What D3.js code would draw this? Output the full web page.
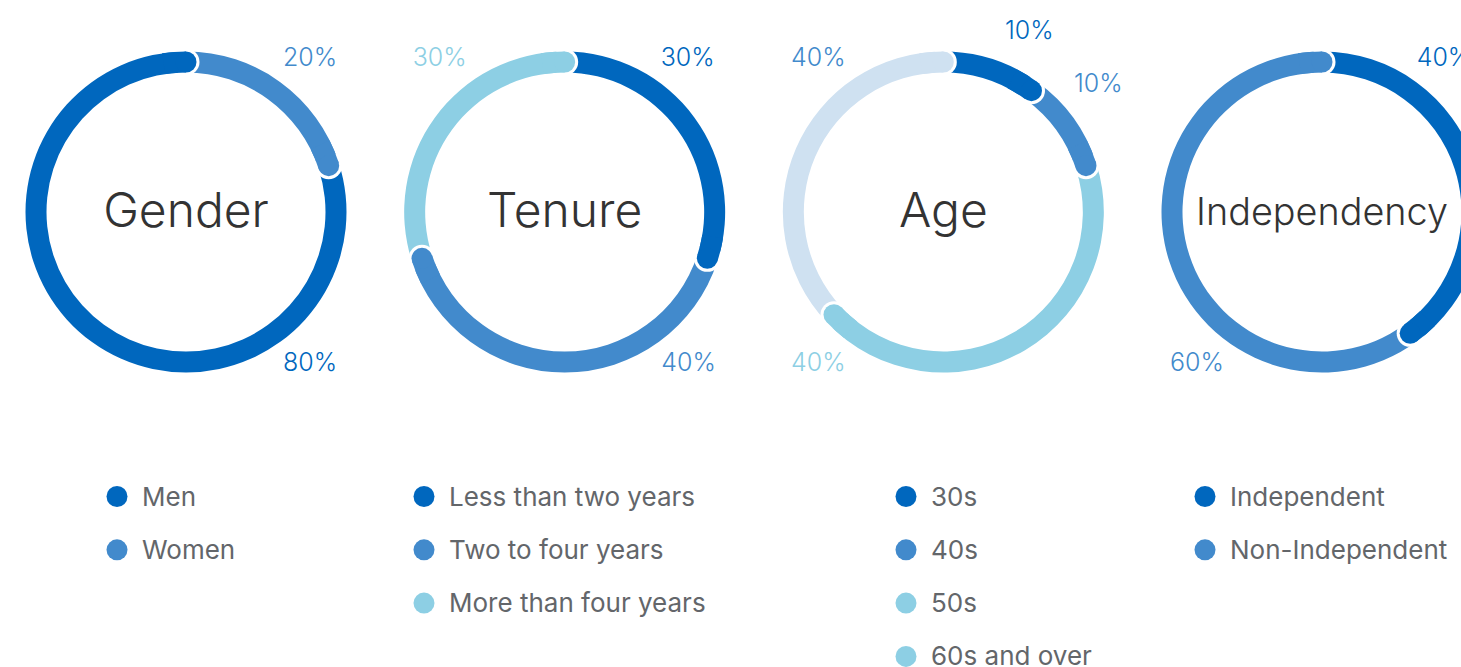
<!DOCTYPE html>
<html>
<head>
    <title>Board composition</title>
    <style>
        body { margin: 0; background: #fff; }
        .title { font-family: Inter, sans-serif; font-weight: 300; font-size: 48px; fill: #333; text-anchor: middle; }
        .pct { font-family: Inter, sans-serif; font-weight: 300; font-size: 25px; text-anchor: middle; }
        .legend text { font-family: Inter, sans-serif; font-weight: 400; font-size: 26px; fill: #63666a; }
    </style>
</head>
<body>
    <svg width="1461" height="667"></svg>

    <script src="https://d3js.org/d3.v7.min.js"></script>
    <script>
        // Datos
        var charts = ["Gender", "Tenure", "Age", "Independency"];

        var genderLabels = ["Men", "Women"];
        var genderValues = [80, 20];

        var tenureLabels = ["Less than two years", "Two to four years", "More than four years"];
        var tenureValues = [30, 40, 30];

        var ageLabels = ["30s", "40s", "50s", "60s and over"];
        var ageValues = [10, 10, 43, 37];

        var indepLabels = ["Independent", "Non-Independent"];
        var indepValues = [40, 60];

        // order the segments are drawn clockwise from 12 o'clock
        var genderOrder = [1, 0];
        var tenureOrder = [0, 1, 2];
        var ageOrder = [0, 1, 2, 3];
        var indepOrder = [0, 1];

        // colores
        var dark = "#0067be", mid = "#428acc", light = "#8dcfe4", pale = "#cfe1f1";
        var ringColors = {
            "Gender": [dark, mid],
            "Tenure": [dark, mid, light],
            "Age": [dark, mid, light, pale],
            "Independency": [dark, mid]
        };
        var dotColors = {
            "Gender": [dark, mid],
            "Tenure": [dark, mid, light],
            "Age": [dark, mid, light, light],
            "Independency": [dark, mid]
        };
        var pctColors = {
            "Gender": [dark, mid],
            "Tenure": [dark, mid, light],
            "Age": [dark, mid, light, mid],
            "Independency": [dark, mid]
        };

        // label offsets from the ring centre (layout only)
        var pctOffsets = {
            "Gender": [[124, 150], [124, -155]],
            "Tenure": [[123, -155], [124, 150], [-125, -155]],
            "Age": [[86, -182], [155, -129], [-125, 150], [-125, -155]],
            "Independency": [[122, -155], [-125, 150]]
        };
        var legendX = [117, 424, 906, 1205];

        var data = {
            "Gender": { labels: genderLabels, values: genderValues, order: genderOrder },
            "Tenure": { labels: tenureLabels, values: tenureValues, order: tenureOrder },
            "Age": { labels: ageLabels, values: ageValues, order: ageOrder },
            "Independency": { labels: indepLabels, values: indepValues, order: indepOrder }
        };

        var svg = d3.select("svg");
        var cy = 212, rMid = 150, band = 21, maxTitle = 252;

        var x = d3.scalePoint().domain(charts).range([186, 1322]);
        var legendY = d3.scaleLinear().domain([0, 1]).range([496.5, 549.8]);

        var ringArc = d3.arc().innerRadius(rMid - band / 2).outerRadius(rMid + band / 2);
        var pie = d3.pie().sort(null).value(function(d) { return d.value; });

        charts.forEach(function(name, ci) {
            var c = data[name];
            var items = c.order.map(function(i) {
                return { index: i, value: c.values[i] };
            });
            var slices = pie(items);
            var g = svg.append("g").attr("transform", "translate(" + x(name) + "," + cy + ")");

            // arcs
            g.selectAll("path.seg")
                .data(slices)
                .enter().append("path")
                .attr("class", "seg")
                .attr("d", ringArc)
                .attr("fill", function(d) { return ringColors[name][d.data.index]; });

            // rounded ends with white halo over the next segment
            slices.forEach(function(d) {
                var col = ringColors[name][d.data.index];
                var a = d.endAngle;
                var px = Math.sin(a) * rMid, py = -Math.cos(a) * rMid;
                g.append("circle").attr("cx", px).attr("cy", py)
                    .attr("r", band / 2 + 3).attr("fill", "#fff");
                g.append("path")
                    .attr("d", ringArc({ startAngle: Math.max(d.startAngle, a - 0.15), endAngle: a }))
                    .attr("fill", col);
                g.append("circle").attr("cx", px).attr("cy", py)
                    .attr("r", band / 2).attr("fill", col);
            });

            // title, shrunk when it is too wide for the ring
            var t = g.append("text")
                .attr("class", "title")
                .attr("y", 15)
                .text(name);
            var w = t.node().getComputedTextLength();
            if (w > maxTitle) {
                t.style("font-size", (48 * maxTitle / w) + "px").attr("y", 13);
            }

            // percentages
            c.values.forEach(function(v, i) {
                var off = pctOffsets[name][i];
                g.append("text")
                    .attr("class", "pct")
                    .attr("x", off[0])
                    .attr("y", off[1] + 9)
                    .attr("fill", pctColors[name][i])
                    .text(Math.round(v / 10) * 10 + "%");
            });

            // legend
            var lg = svg.append("g").attr("class", "legend")
                .attr("transform", "translate(" + legendX[ci] + ",0)");
            var row = lg.selectAll("g")
                .data(c.labels)
                .enter().append("g")
                .attr("transform", function(d, i) { return "translate(0," + legendY(i) + ")"; });
            row.append("circle")
                .attr("r", 10.5)
                .attr("fill", function(d, i) { return dotColors[name][i]; });
            row.append("text")
                .attr("x", 25)
                .attr("y", 9)
                .text(function(d) { return d; });
        });
    </script>
</body>
</html>
